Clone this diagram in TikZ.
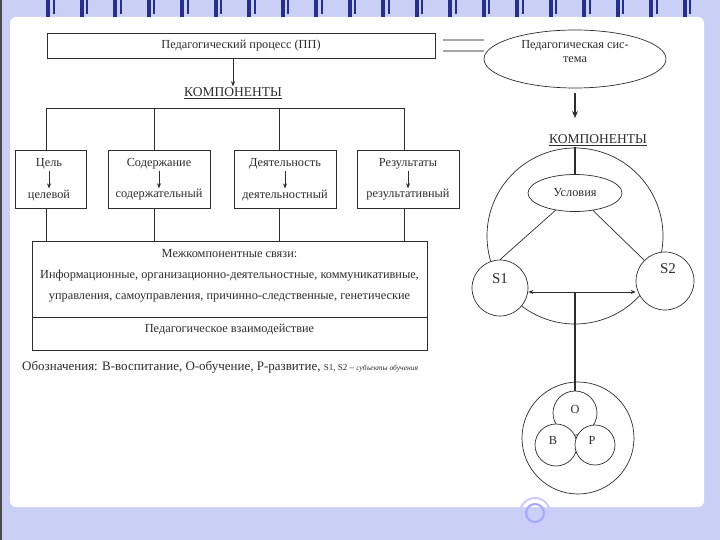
\documentclass[tikz,border=0pt]{standalone}
\usepackage{fontspec}
\setmainfont{Liberation Serif}
\usetikzlibrary{positioning,arrows.meta,shapes.geometric}
\definecolor{slidebg}{RGB}{202,207,245}
\definecolor{ringblue}{RGB}{38,48,140}
\definecolor{ink}{RGB}{45,45,45}

\begin{document}
\begin{tikzpicture}[x=1pt, y=-1pt,
        txt/.style={font=\fontsize{12.3}{14}\selectfont, text=ink, inner sep=1pt},
        head/.style={font=\fontsize{13.5}{15}\selectfont, text=ink, inner sep=1pt},
        box/.style={rectangle, draw=ink, line width=0.7pt, inner sep=0pt},
        comp/.style={box, minimum width=102pt, minimum height=58pt},
        oval/.style={ellipse, draw=ink, line width=0.7pt, fill=white, inner sep=0pt},
        ring/.style={circle, draw=ink, line width=0.7pt, fill=white, inner sep=0pt},
        link/.style={draw=ink, line width=0.7pt},
        axis/.style={draw=ink, line width=1.3pt},
        arrow/.style={link, -{Stealth[length=5pt, width=4pt]}},
        bigarrow/.style={axis, -{Stealth[length=7pt, width=6pt]}},
        dblarrow/.style={link, {Stealth[length=5pt, width=4pt]}-{Stealth[length=5pt, width=4pt]}},
        eqline/.style={draw=gray!70, line width=2.2pt}
    ]
    % slide frame
    \fill[slidebg] (0,0) rectangle (720,540);
    \fill[white, rounded corners=6pt] (10,17) rectangle (704,507);
    \fill[gray!60!black] (0,0) rectangle (1.5,540);
    \foreach \i in {0,...,19} {
        \fill[ringblue] ({46+33.5*\i},0) rectangle ++(4,17);
        \fill[ringblue] ({52.5+33.5*\i},0) rectangle ++(2,14);
    }
    \draw[blue!35, line width=2pt] (535,513) circle (9);
    \draw[blue!20, line width=2pt] (535,513) circle (15);

    % left part: process and its components
    \node[box, txt, minimum width=388pt, minimum height=25pt] (process) at (241,45.5) {Педагогический процесс (ПП)};
    \node[head] (komp) at (233,93) {\underline{КОМПОНЕНТЫ}};
    \draw[arrow] (process.south -| komp.north) -- (komp.north);

    \coordinate (k1) at (46,108);
    \coordinate (k2) at (154,108);
    \coordinate (k3) at (279,108);
    \coordinate (k4) at (404,108);
    \draw[link] (k1) -- (k4);

    \node[comp, minimum width=71pt] (goal) at (50.5,179) {};
    \node[comp] (content) at (159,179) {};
    \node[comp] (activity) at (285,179) {};
    \node[comp] (result) at (408,179) {};

    \node[txt] (goalA) at (49,164) {Цель};
    \node[txt] (goalB) at (49,195) {целевой};
    \node[txt] (contentA) at (159,164) {Содержание};
    \node[txt] (contentB) at (159,195) {содержательный};
    \node[txt] (activityA) at (285,164) {Деятельность};
    \node[txt] (activityB) at (285,195) {деятельностный};
    \node[txt] (resultA) at (408,164) {Результаты};
    \node[txt] (resultB) at (408,195) {результативный};
    \draw[arrow] (goalA) -- (goalB);
    \draw[arrow] (contentA) -- (contentB);
    \draw[arrow] (activityA) -- (activityB);
    \draw[arrow] (resultA) -- (resultB);

    \node[box, minimum width=395pt, minimum height=109pt] (links) at (229.5,295.5) {};
    \draw[link] (links.west |- 0,317) -- (links.east |- 0,317);
    \node[txt] (linksA) at (229.5,254) {Межкомпонентные связи:};
    \node[txt] (linksB) at (229.5,276) {Информационные, организационно-деятельностные, коммуникативные,};
    \node[txt] (linksC) at (229.5,298) {управления, самоуправления, причинно-следственные, генетические};
    \node[txt] (interact) at (229.5,329) {Педагогическое взаимодействие};

    \foreach \k/\c in {k1/goal, k2/content, k3/activity, k4/result} {
        \draw[link] (\k) -- (\k |- \c.north);
        \draw[link] (\k |- \c.south) -- (\k |- links.north);
    }

    \node[txt, anchor=west, font=\fontsize{13}{15}\selectfont] (legend) at (21,367) {Обозначения: В-воспитание, О-обучение, Р-развитие, {\fontsize{9}{10}\selectfont S1, S2 -- {\fontsize{7.5}{9}\selectfont\itshape субъекты обучения}}};

    % right part: pedagogical system
    \node[oval, minimum width=182pt, minimum height=58pt] (system) at (575,59) {};
    \node[txt, align=center] (systemT) at (575,52) {Педагогическая сис-\\тема};
    \draw[eqline] ([xshift=8pt]process.east |- 0,40) -- (system.west |- 0,40);
    \draw[eqline] ([xshift=8pt]process.east |- 0,51) -- (system.west |- 0,51);

    \node[head] (kompR) at (598,140) {\underline{КОМПОНЕНТЫ}};
    \draw[bigarrow] ([yshift=-5pt]system.south) -- (system.south |- 0,118);

    \node[ring, minimum size=176pt, fill=none] (whole) at (575,236) {};
    \node[oval, minimum width=94pt, minimum height=37pt, txt] (cond) at (575,193) {Условия};
    \draw[axis] (kompR.south -| cond.north) -- (cond.north);

    \node[ring, minimum size=56pt, label={[head, font=\fontsize{15}{16}\selectfont, yshift=9pt]center:S1}] (s1) at (500,288) {};
    \node[ring, minimum size=58pt, label={[head, font=\fontsize{15}{16}\selectfont, yshift=12pt, xshift=3pt]center:S2}] (s2) at (665,281) {};
    \draw[link] (cond) -- (s1.north);
    \draw[link] (cond) -- (s2.north west);

    \coordinate (mid) at (575,292);
    \draw[dblarrow] (s1.east |- mid) -- (s2.west |- mid);

    \node[ring, minimum size=112pt] (dev) at (578,438) {};
    \node[ring, minimum size=44pt, label={[txt, yshift=4pt]center:О}] (edu) at (575,413) {};
    \node[ring, minimum size=42pt, label={[txt, yshift=5pt, xshift=-3pt]center:В}] (up) at (556,445) {};
    \node[ring, minimum size=40pt, label={[txt, yshift=5pt, xshift=-3pt]center:Р}] (grow) at (595,445) {};
    \draw[axis] (mid) -- (edu.north);
\end{tikzpicture}
\end{document}
